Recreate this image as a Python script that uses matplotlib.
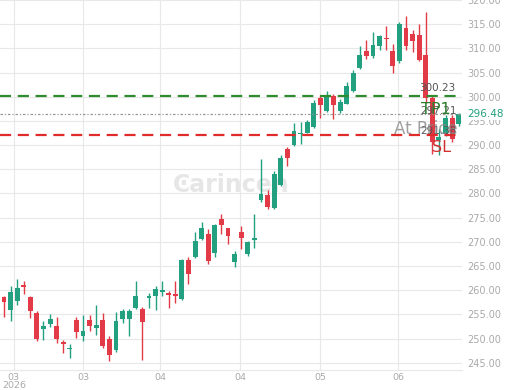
#!/usr/bin/env python3

import matplotlib as mpl
mpl.use("agg")

import matplotlib.pyplot as plt
import numpy as np


# OHLC, one entry per candle
opens = [258.5, 256.0, 257.7, 261.1, 258.5, 255.2, 251.9, 253.0, 252.6, 249.3,
         247.9, 253.8, 250.5, 253.8, 252.1, 253.8, 249.9, 247.6, 254.0, 254.0,
         256.4, 256.2, 258.3, 258.7, 259.7, 259.5, 259.3, 258.1, 266.3, 266.9,
         270.6, 271.6, 267.7, 274.8, 272.8, 265.8, 272.0, 267.5, 270.3, 278.7,
         279.6, 276.9, 281.8, 289.2, 290.0, 292.2, 292.6, 293.7, 299.8, 297.1,
         300.2, 297.1, 298.6, 301.2, 305.9, 309.4, 308.4, 310.4, 312.1, 309.4,
         307.4, 314.3, 312.9, 312.7, 308.6, 299.8, 291.0, 292.2, 295.7, 294.3]
highs = [258.8, 260.9, 262.4, 261.8, 258.7, 255.6, 253.6, 255.0, 254.4, 249.7,
         248.9, 254.4, 254.8, 254.8, 256.9, 255.2, 250.5, 255.4, 256.2, 256.2,
         262.0, 256.6, 259.5, 260.9, 262.0, 259.9, 261.8, 266.5, 266.9, 272.0,
         274.2, 272.6, 273.6, 275.7, 272.9, 268.1, 273.2, 270.1, 275.7, 287.1,
         280.8, 284.7, 287.9, 289.6, 294.5, 294.7, 295.1, 299.4, 300.4, 301.2,
         300.6, 299.6, 303.1, 305.5, 310.4, 311.7, 313.3, 312.7, 314.7, 311.0,
         315.5, 316.6, 313.7, 315.1, 317.6, 300.2, 293.3, 296.3, 296.3, 296.7]
lows = [254.4, 253.6, 256.9, 259.3, 254.2, 249.5, 249.7, 252.4, 249.1, 247.0,
        246.0, 250.1, 249.5, 251.5, 250.7, 248.1, 245.4, 247.2, 253.2, 250.5,
        256.2, 245.6, 256.4, 256.0, 258.9, 256.4, 257.3, 257.9, 261.3, 266.7,
        270.3, 265.4, 266.9, 271.6, 269.5, 264.8, 268.5, 267.1, 268.7, 278.3,
        276.7, 276.7, 281.6, 285.7, 289.8, 290.2, 292.4, 293.5, 295.7, 296.9,
        295.3, 296.7, 298.4, 301.0, 305.7, 307.8, 308.0, 309.6, 309.6, 304.9,
        307.0, 309.6, 309.2, 307.4, 298.8, 288.1, 287.9, 291.8, 290.6, 294.0]
closes = [257.5, 259.7, 260.5, 260.7, 255.6, 249.9, 252.6, 254.0, 249.9, 248.9,
          248.1, 251.3, 251.5, 252.6, 252.8, 248.5, 246.6, 253.6, 255.6, 255.8,
          258.9, 253.4, 258.9, 260.3, 260.1, 259.1, 258.9, 266.3, 263.4, 270.1,
          272.8, 266.1, 273.4, 273.4, 271.2, 267.5, 270.8, 269.9, 270.8, 279.8,
          277.3, 284.0, 287.3, 287.3, 293.0, 292.6, 294.7, 298.8, 298.2, 300.2,
          298.2, 299.0, 302.2, 304.9, 308.6, 308.4, 310.6, 312.5, 311.9, 306.3,
          315.1, 310.4, 311.5, 307.6, 299.8, 290.6, 291.6, 295.7, 291.2, 296.48]

xtick_pos = [1.5, 12, 23.7, 35.8, 48, 59.8]
xtick_labels = ["03\n2026", "03", "04", "04", "05", "06"]
yticks = list(range(245, 325, 5))

tp_level = 300.23
sl_level = 292.1
last_price = 296.48

green = "#22a07f"
red = "#e23a47"

fig = plt.figure(figsize=(5.2, 3.9), dpi=100)
ax = fig.add_axes([0.0, 20 / 390, 462 / 520, 370 / 390])

x = np.arange(len(opens))
o = np.array(opens)
h = np.array(highs)
l = np.array(lows)
c = np.array(closes)
up = c >= o
cols = np.where(up, green, red)

ax.vlines(x, l, h, colors=cols, linewidth=1, zorder=3)
bottom = np.minimum(o, c)
height = np.maximum(np.abs(c - o), 0.15)
ax.bar(x, height, bottom=bottom, width=0.74, color=cols, linewidth=0, zorder=4)

ax.set_xlim(-0.6, 69.5)
ax.set_ylim(243.5, 319.2)

ax.set_xticks(xtick_pos)
ax.set_xticklabels(xtick_labels, linespacing=0.95)
ax.set_yticks(yticks)
ax.set_yticklabels(["{:.2f}".format(v) for v in yticks])
ax.yaxis.tick_right()
ax.tick_params(axis="both", length=0, labelsize=7, labelcolor="#aaaaaa")
ax.tick_params(axis="x", pad=2, labelsize=6.8)
ax.tick_params(axis="y", pad=4)
ax.grid(color="#e8e8e8", linewidth=0.8, zorder=0)
for s in ["top", "left", "right"]:
    ax.spines[s].set_visible(False)
ax.spines["bottom"].set_color("#e8e8e8")

# watermark
ax.text(0.5, 0.5, "Ͼarincen", transform=ax.transAxes, fontsize=17,
        fontweight="bold", color="#e0e0e0", alpha=0.8,
        ha="center", va="center", zorder=1)

# trade levels
ax.axhline(tp_level, color="#2e8b2e", linestyle=(0, (5, 3)), linewidth=1.6, zorder=5)
ax.axhline(sl_level, color="#e02b2b", linestyle=(0, (5, 3)), linewidth=1.6, zorder=5)
ax.axhline(last_price, color="#999999", linestyle=(0, (2, 1.5, 1, 1.5)),
           linewidth=0.9, zorder=5)

ax.text(65.8, tp_level + 0.6, "300.23", fontsize=7.5, color="#555555",
        ha="center", va="bottom", zorder=6)
ax.text(65.9, 297.0, "297.21", fontsize=7.5, color="#555555",
        ha="center", va="center", zorder=6)
ax.text(65.6, 297.4, "TP1", fontsize=11.5, color="#2e7d2e",
        ha="center", va="center", zorder=7)
ax.text(66.0, 292.9, "291.38", fontsize=7.5, color="#555555",
        ha="center", va="center", zorder=6)
ax.text(64.0, 293.3, "At Price", fontsize=12, color="#888888", alpha=0.8,
        ha="center", va="center", zorder=7)
ax.text(66.4, 289.6, "SL", fontsize=11.5, color="#d03030",
        ha="center", va="center", zorder=7)

# current price tag on the right axis
ax.annotate("{:.2f}".format(last_price), xy=(1, last_price),
            xycoords=("axes fraction", "data"),
            xytext=(4, 0), textcoords="offset points",
            ha="left", va="center", fontsize=7.5, color=green,
            bbox=dict(boxstyle="square,pad=0.15", fc="white", ec="none"),
            annotation_clip=False, zorder=8)

fig.savefig("out.png", dpi=100)
